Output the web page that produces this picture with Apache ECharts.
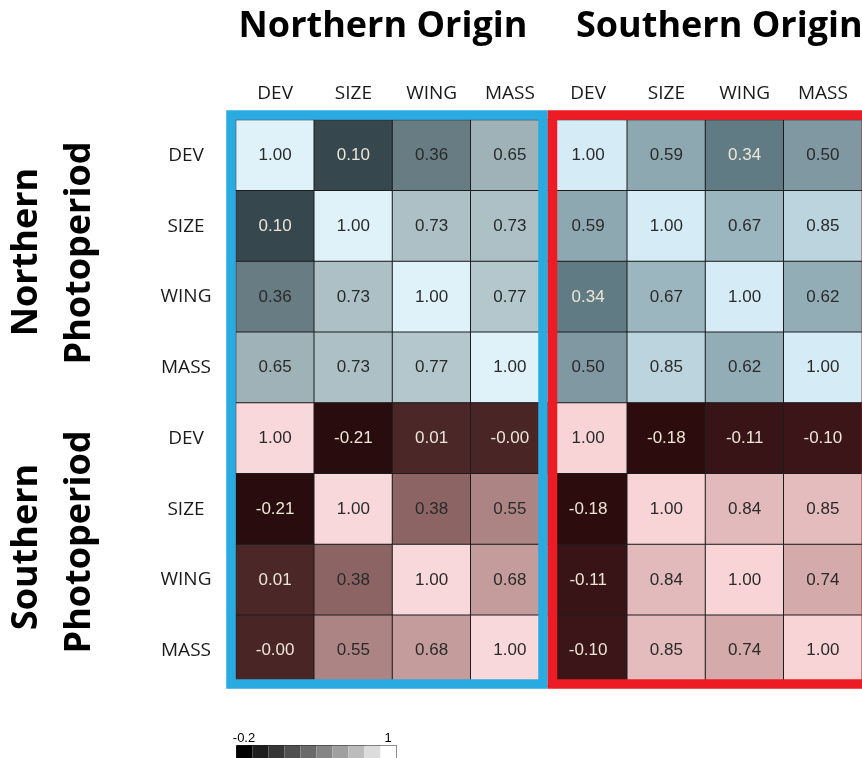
<!DOCTYPE html>
<html>
<head>
<meta charset="utf-8">
<script src="https://cdn.jsdelivr.net/npm/echarts@6/dist/echarts.min.js"></script>
<style>
  html, body { margin: 0; padding: 0; background: #fff; }
  #chart { width: 862px; height: 758px; }
</style>
</head>
<body>
<div id="chart"></div>
<script>
/** traits, repeated for the two origins (columns) and two photoperiods (rows) */
const traits = ['DEV', 'SIZE', 'WING', 'MASS']
const colLabels = [...traits, ...traits]
const rowLabels = [...traits, ...traits]

/** correlations: northern photoperiod x northern origin */
const npNorthOrigin = [
  [1.00, 0.10, 0.36, 0.65],
  [0.10, 1.00, 0.73, 0.73],
  [0.36, 0.73, 1.00, 0.77],
  [0.65, 0.73, 0.77, 1.00]
]
/** northern photoperiod x southern origin */
const npSouthOrigin = [
  [1.00, 0.59, 0.34, 0.50],
  [0.59, 1.00, 0.67, 0.85],
  [0.34, 0.67, 1.00, 0.62],
  [0.50, 0.85, 0.62, 1.00]
]
/** southern photoperiod x northern origin (-0.003 prints as -0.00) */
const spNorthOrigin = [
  [1.00, -0.21, 0.01, -0.003],
  [-0.21, 1.00, 0.38, 0.55],
  [0.01, 0.38, 1.00, 0.68],
  [-0.003, 0.55, 0.68, 1.00]
]
/** southern photoperiod x southern origin */
const spSouthOrigin = [
  [1.00, -0.18, -0.11, -0.10],
  [-0.18, 1.00, 0.84, 0.85],
  [-0.11, 0.84, 1.00, 0.74],
  [-0.10, 0.85, 0.74, 1.00]
]

/** colour key at the bottom: band edges and grey levels */
const keyEdges = [-0.2, -0.08, 0.04, 0.16, 0.28, 0.40, 0.52, 0.64, 0.76, 0.88, 1.0]
const keyGreys = ['#000000', '#1e1e1e', '#363636', '#505050', '#6a6a6a', '#858585', '#a0a0a0', '#bcbcbc', '#dcdcdc', '#ffffff']
const keyLabels = ['-0.2', '1']

function toCells(matrix, colOffset, rowOffset) {
  const out = []
  matrix.forEach((row, r) => {
    row.forEach((v, c) => {
      out.push({
        value: [c + colOffset, r + rowOffset, v],
        label: { color: v < 0.35 ? '#ece6d6' : '#2a2a2a' }
      })
    })
  })
  return out
}

function heat(data) {
  return {
    type: 'heatmap',
    data,
    itemStyle: { borderColor: '#1c1c1c', borderWidth: 1 },
    label: {
      show: true,
      fontFamily: 'Liberation Sans',
      fontSize: 17,
      formatter: (p) => p.value[2].toFixed(2)
    },
    emphasis: { disabled: true }
  }
}

function buildOption() {
  const titleFont = 'bold 36px "Open Sans"'
  return {
    animation: false,
    grid: { left: 236, top: 120, width: 632, height: 566 },
    xAxis: {
      type: 'category',
      position: 'top',
      data: colLabels,
      axisLine: { show: false },
      axisTick: { show: false },
      splitArea: { show: false },
      axisLabel: { color: '#1a1a1a', fontFamily: 'Open Sans', fontSize: 19, margin: 17, interval: 0 }
    },
    yAxis: {
      type: 'category',
      inverse: true,
      data: rowLabels,
      axisLine: { show: false },
      axisTick: { show: false },
      axisLabel: { color: '#1a1a1a', fontFamily: 'Open Sans', fontSize: 19, margin: 50, align: 'center', interval: 0 }
    },
    visualMap: [
      {
        show: false, seriesIndex: 0, dimension: 2, min: 0, max: 1,
        inRange: { color: ['#253238', '#52666e', '#84999f', '#b0c3c9', '#dff1f9'] }
      },
      {
        show: false, seriesIndex: 1, dimension: 2, min: 0, max: 1,
        inRange: { color: ['#22404a', '#4f6b74', '#7f98a1', '#a9c4ce', '#d5ebf5'] }
      },
      {
        show: false, seriesIndex: 2, dimension: 2, min: -0.2, max: 1,
        inRange: { color: ['#280c0e', '#5a3232', '#906868', '#c8a0a0', '#f8d8da'] }
      },
      {
        show: false, seriesIndex: 3, dimension: 2, min: -0.2, max: 1,
        inRange: { color: ['#2a0a0c', '#5c2a2c', '#9a6a6c', '#d0a4a4', '#f8d4d6'] }
      },
      {
        type: 'piecewise',
        seriesIndex: 4,
        orient: 'horizontal',
        left: 236,
        top: 745,
        itemWidth: 16,
        itemHeight: 14,
        itemGap: 0,
        itemSymbol: 'rect',
        padding: 0,
        borderWidth: 1,
        borderColor: '#222',
        selectedMode: false,
        hoverLink: false,
        showLabel: false,
        pieces: keyGreys.map((g, i) => ({ min: keyEdges[i], max: keyEdges[i + 1], color: g }))
      }
    ],
    graphic: [
      { type: 'text', x: 383, y: 27, style: { text: 'Northern Origin', font: titleFont, fill: '#000', align: 'center', verticalAlign: 'middle' } },
      { type: 'text', x: 576, y: 27, style: { text: 'Southern Origin', font: titleFont, fill: '#000', align: 'left', verticalAlign: 'middle' } },
      { type: 'text', x: 27, y: 252, rotation: Math.PI / 2, style: { text: 'Northern', font: titleFont, fill: '#000', align: 'center', verticalAlign: 'middle' } },
      { type: 'text', x: 80, y: 253, rotation: Math.PI / 2, style: { text: 'Photoperiod', font: titleFont, fill: '#000', align: 'center', verticalAlign: 'middle' } },
      { type: 'text', x: 27, y: 547, rotation: Math.PI / 2, style: { text: 'Southern', font: titleFont, fill: '#000', align: 'center', verticalAlign: 'middle' } },
      { type: 'text', x: 80, y: 542, rotation: Math.PI / 2, style: { text: 'Photoperiod', font: titleFont, fill: '#000', align: 'center', verticalAlign: 'middle' } },
      // origin boxes
      { type: 'rect', z: 10, shape: { x: 231, y: 115, width: 312, height: 569 }, style: { fill: 'none', stroke: '#29abe2', lineWidth: 9.5 } },
      { type: 'rect', z: 11, shape: { x: 552.5, y: 115, width: 314, height: 569 }, style: { fill: 'none', stroke: '#ed1c24', lineWidth: 9.5 } },
      // colour key end labels
      { type: 'text', x: 244, y: 738, style: { text: keyLabels[0], font: '13px Liberation Sans', fill: '#000', align: 'center', verticalAlign: 'middle' } },
      { type: 'text', x: 388, y: 738, style: { text: keyLabels[1], font: '13px Liberation Sans', fill: '#000', align: 'center', verticalAlign: 'middle' } }
    ],
    series: [
      heat(toCells(npNorthOrigin, 0, 0)),
      heat(toCells(npSouthOrigin, 4, 0)),
      heat(toCells(spNorthOrigin, 0, 4)),
      heat(toCells(spSouthOrigin, 4, 4)),
      { type: 'heatmap', data: [] }
    ]
  }
}

const chart = echarts.init(document.getElementById('chart'))
chart.setOption(buildOption())
</script>
</body>
</html>
